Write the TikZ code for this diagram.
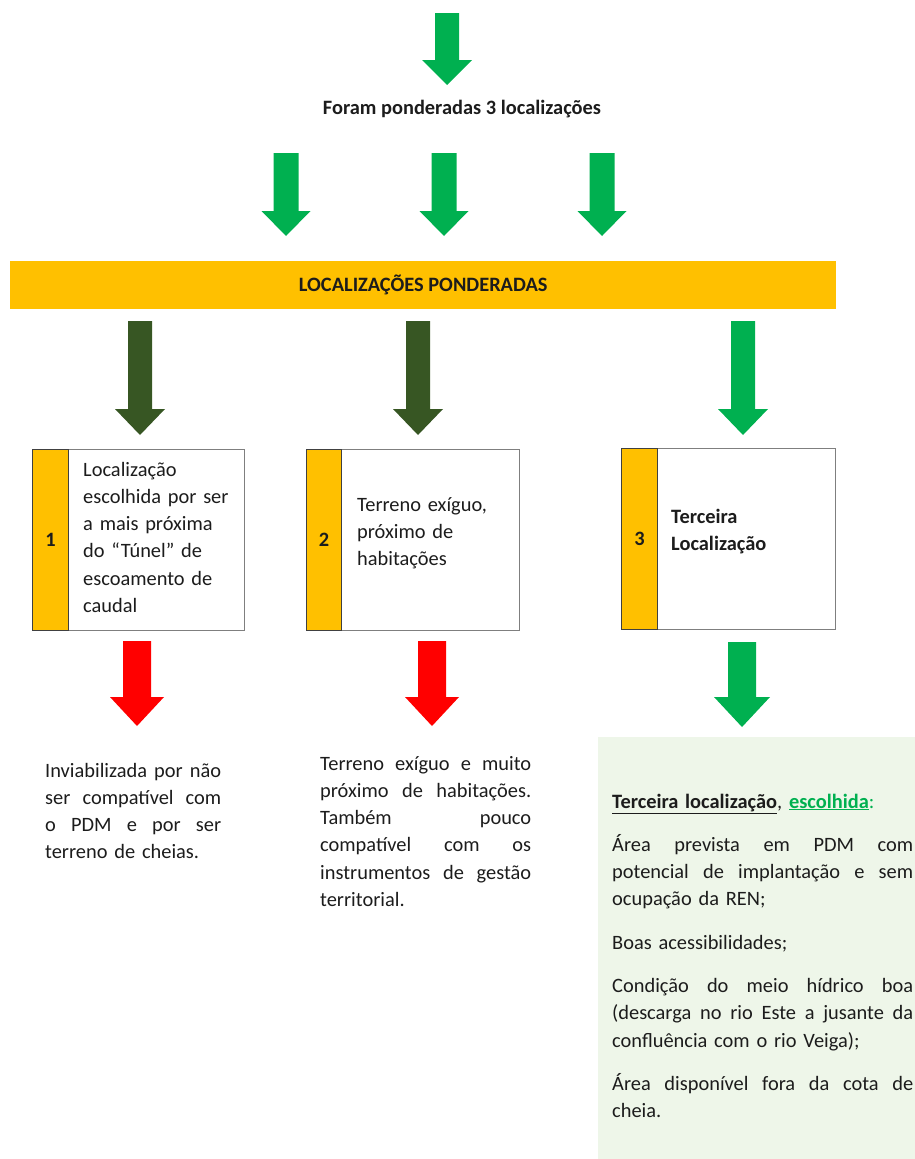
\documentclass[tikz,border=0pt]{standalone}
\usepackage{fontspec}
\setmainfont{Carlito}
\definecolor{gA}{HTML}{00B050}
\definecolor{gD}{HTML}{375623}
\definecolor{orA}{HTML}{FFC000}
\definecolor{rA}{HTML}{FF0000}
\definecolor{txt}{HTML}{1C1C1C}
\definecolor{pale}{HTML}{EEF6E9}
\definecolor{boxgray}{HTML}{7F7F7F}
% block arrow: #1 colour, #2 centre x, #3 top, #4 head start, #5 tip, #6 half shaft, #7 half head
\newcommand\blockarrow[7]{%
  \fill[#1] (#2-#6,#3) -- (#2+#6,#3) -- (#2+#6,#4) -- (#2+#7,#4) -- (#2,#5)
     -- (#2-#7,#4) -- (#2-#6,#4) -- cycle;}
% justified line of given width
\newcommand\jline[2]{\leavevmode\hbox to #1{\spaceskip=\fontdimen2\font plus 1fil\relax #2}}
\tikzset{
  whitebox/.style={draw=boxgray, line width=1.3pt, fill=white, anchor=north west,
    minimum width=212pt, minimum height=181pt},
  strip/.style={draw=black!75, line width=1.3pt, fill=orA, anchor=north west,
    minimum width=36pt, minimum height=181pt, font=\fontsize{20.4pt}{27.3pt}\selectfont\bfseries},
  para/.style={anchor=base west, align=left},
}
\begin{document}
\begin{tikzpicture}[x=1pt,y=-1pt,
  every node/.style={text=txt, inner sep=0pt},
  font=\fontsize{20.4pt}{27.3pt}\selectfont]
\useasboundingbox (0,0) rectangle (915,1159);

% top arrow and title
\blockarrow{gA}{447}{13}{60}{85}{12}{25}
\node[anchor=base] (title) at (462,114) {\textbf{Foram ponderadas 3 localizações}};

% three arrows
\blockarrow{gA}{286}{153}{211}{236}{12.5}{24.5}
\blockarrow{gA}{444}{153}{211}{236}{12.5}{24.5}
\blockarrow{gA}{602}{153}{211}{236}{12.5}{24.5}

% orange bar
\node[fill=orA, anchor=north west, minimum width=826pt, minimum height=48pt] (bar) at (10,261) {};
\node (bartext) at (bar.center) {\textbf{LOCALIZAÇÕES PONDERADAS}};

% arrows under the bar
\blockarrow{gD}{140}{321}{409}{435}{12}{25}
\blockarrow{gD}{418}{321}{409}{435}{12}{25}
\blockarrow{gA}{743}{321}{409}{435}{12}{25}

% boxes
\node[whitebox] (b1) at (32,449) {};
\node[strip] (s1) at (32,449) {1};
\node[para, text width=160pt] (t1) at (83,476)
  {Localização\\escolhida por ser\\a mais próxima\\do “Túnel” de\\escoamento de\\caudal};

\node[whitebox, minimum width=213pt] (b2) at (306,449) {};
\node[strip, minimum width=35pt] (s2) at (306,449) {2};
\node[para, text width=155pt] (t2) at (357,511)
  {Terreno exíguo,\\próximo de\\habitações};

\node[whitebox, minimum width=214pt] (b3) at (621,448) {};
\node[strip] (s3) at (621,448) {3};
\node[para, text width=160pt] (t3) at (671,523)
  {\textbf{Terceira}\\\textbf{Localização}};

% arrows under boxes
\blockarrow{rA}{137}{641}{697}{726}{14}{27}
\blockarrow{rA}{432}{641}{697}{726}{14}{27}
\blockarrow{gA}{742}{642}{697}{727}{14}{28}

% outcome texts
\node[para, text width=176pt] (r1) at (45,777)
  {\jline{176pt}{Inviabilizada por não}\\\jline{176pt}{ser compatível com}\\\jline{176pt}{o PDM e por ser}\\terreno de cheias.};

\node[para, text width=211pt] (r2) at (320,770)
  {\jline{211pt}{Terreno exíguo e muito}\\\jline{211pt}{próximo de habitações.}\\\jline{211pt}{Também pouco}\\\jline{211pt}{compatível com os}\\\jline{211pt}{instrumentos de gestão}\\territorial.};

% chosen location panel
\node[fill=pale, anchor=north west, minimum width=317pt, minimum height=422pt] (gb) at (598,737) {};
\node[para, text width=301pt] (g3) at (612,808)
  {\underline{\textbf{Terceira localização}}, \textcolor{gA}{\underline{\textbf{escolhida}}:}\\[16pt]
   \jline{301pt}{Área prevista em PDM com}\\\jline{301pt}{potencial de implantação e sem}\\ocupação da REN;\\[16pt]
   Boas acessibilidades;\\[16pt]
   \jline{301pt}{Condição do meio hídrico boa}\\\jline{301pt}{(descarga no rio Este a jusante da}\\confluência com o rio Veiga);\\[16pt]
   \jline{301pt}{Área disponível fora da cota de}\\cheia.};
\end{tikzpicture}
\end{document}
